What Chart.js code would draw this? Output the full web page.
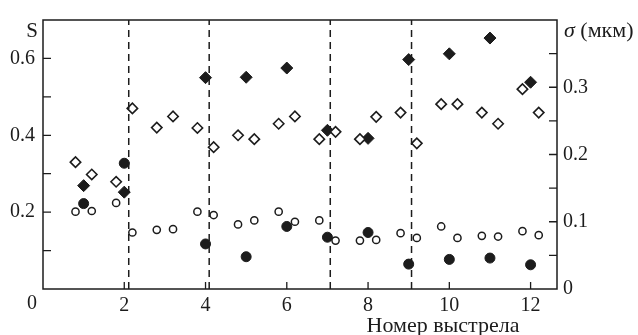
<!DOCTYPE html>
<html><head><meta charset="utf-8">
<script src="https://cdn.jsdelivr.net/npm/chart.js@4"></script>
<style>html,body{margin:0;padding:0;background:#fff}#wrap{width:638px;height:335px;position:relative}</style>
</head><body><div id="wrap"><canvas id="c"></canvas></div>
<script>
// ---- data ----
const shotFilled = [1, 2, 4, 5, 6, 7, 8, 9, 10, 11, 12];
const sFilled = [0.269, 0.252, 0.550, 0.551, 0.575, 0.413, 0.392, 0.597, 0.612, 0.653, 0.538];
const sigmaFilled = [0.127, 0.187, 0.067, 0.048, 0.093, 0.077, 0.084, 0.037, 0.044, 0.046, 0.036];
const shotOpen = [0.8, 1.2, 1.8, 2.2, 2.8, 3.2, 3.8, 4.2, 4.8, 5.2, 5.8, 6.2, 6.8, 7.2, 7.8, 8.2, 8.8, 9.2, 9.8, 10.2, 10.8, 11.2, 11.8, 12.2];
const sOpen = [0.330, 0.298, 0.279, 0.470, 0.420, 0.449, 0.419, 0.369, 0.400, 0.390, 0.430, 0.449, 0.390, 0.409, 0.390, 0.448, 0.459, 0.379, 0.481, 0.481, 0.459, 0.430, 0.520, 0.459];
const sigmaOpen = [0.115, 0.116, 0.128, 0.084, 0.088, 0.089, 0.115, 0.110, 0.096, 0.102, 0.115, 0.100, 0.102, 0.072, 0.072, 0.073, 0.083, 0.076, 0.093, 0.076, 0.079, 0.078, 0.086, 0.080];
const dividers = [2.11, 4.09, 7.07, 9.07];
const xTicks = [0, 2, 4, 6, 8, 10, 12];
const sTickLabels = [0.2, 0.4, 0.6];
const sigmaTickLabels = [0, 0.1, 0.2, 0.3];
const xTitle = 'Номер выстрела';
const sTitle = 'S';
const sigmaSymbol = 'σ';
const sigmaUnit = ' (мкм)';

const INK = '#1c1c1c';
const FONT = '"Liberation Serif", "DejaVu Serif", serif';
const pts = (xs, ys) => xs.map((x, i) => ({x, y: ys[i]}));
const near = (arr, v) => arr.some(t => Math.abs(t - v) < 1e-6);

const datasets = [];
dividers.forEach(d => datasets.push({
  type: 'line', yAxisID: 'y', data: [{x: d, y: 0}, {x: d, y: 0.7}],
  borderColor: INK, borderWidth: 1.5, borderDash: [7, 5], pointRadius: 0, fill: false
}));
datasets.push({label: 'S open', yAxisID: 'y', data: pts(shotOpen, sOpen), pointStyle: 'rectRot',
  pointRadius: 5.2, backgroundColor: '#fff', borderColor: INK, borderWidth: 1.6});
datasets.push({label: 'S filled', yAxisID: 'y', data: pts(shotFilled, sFilled), pointStyle: 'rectRot',
  pointRadius: 6, backgroundColor: INK, borderColor: INK, borderWidth: 1});
datasets.push({label: 'sigma open', yAxisID: 'y1', data: pts(shotOpen, sigmaOpen), pointStyle: 'circle',
  pointRadius: 3.6, backgroundColor: '#fff', borderColor: INK, borderWidth: 1.5});
datasets.push({label: 'sigma filled', yAxisID: 'y1', data: pts(shotFilled, sigmaFilled), pointStyle: 'circle',
  pointRadius: 5, backgroundColor: INK, borderColor: INK, borderWidth: 1});

const decor = {
  id: 'decor',
  afterDraw(chart) {
    const {ctx, chartArea: a, scales} = chart;
    ctx.save();
    ctx.strokeStyle = INK; ctx.lineWidth = 1.5;
    ctx.strokeRect(a.left, a.top, a.right - a.left, a.bottom - a.top);
    ctx.lineWidth = 1.3;
    ctx.beginPath();
    scales.x.ticks.forEach(t => { if (t.value > 0) { const p = scales.x.getPixelForValue(t.value); ctx.moveTo(p, a.bottom); ctx.lineTo(p, a.bottom - 7); } });
    scales.y.ticks.forEach(t => { if (t.value > 1e-6 && t.value < scales.y.max - 1e-6) { const p = scales.y.getPixelForValue(t.value); ctx.moveTo(a.left, p); ctx.lineTo(a.left + 8, p); } });
    scales.y1.ticks.forEach(t => { if (t.value > 1e-6 && t.value < scales.y1.max - 1e-6) { const p = scales.y1.getPixelForValue(t.value); ctx.moveTo(a.right, p); ctx.lineTo(a.right - 8, p); } });
    ctx.stroke();
    ctx.fillStyle = INK;
    ctx.textBaseline = 'middle';
    ctx.textAlign = 'center';
    ctx.font = '21px ' + FONT;
    ctx.fillText(sTitle, a.left - 11, a.top + 11);
    ctx.font = '20px ' + FONT;
    ctx.fillText('0', a.left - 11, a.bottom + 15);
    ctx.textAlign = 'left';
    ctx.font = 'italic 22px ' + FONT;
    const x0 = a.right + 7;
    ctx.fillText(sigmaSymbol, x0, a.top + 11);
    const w = ctx.measureText(sigmaSymbol).width;
    ctx.font = '22px ' + FONT;
    ctx.fillText(sigmaUnit, x0 + w, a.top + 11);
    ctx.textAlign = 'center';
    ctx.fillText(xTitle, (a.left + a.right) / 2 + 143, a.bottom + 37);
    ctx.restore();
  }
};

new Chart(document.getElementById('c'), {
  type: 'scatter',
  data: {datasets},
  options: {
    responsive: true, maintainAspectRatio: false, animation: false,
    layout: {padding: {top: 14, left: 0, right: 0, bottom: 0}},
    plugins: {legend: {display: false}, tooltip: {enabled: false}},
    scales: {
      x: {
        type: 'linear', min: 0, max: 12.65,
        afterBuildTicks: s => { s.ticks = xTicks.map(v => ({value: v})); },
        afterFit: s => { s.height = 46; },
        grid: {display: false, drawTicks: false}, border: {display: false},
        ticks: {color: INK, padding: 5, font: {family: FONT, size: 20},
          callback: v => v > 0 ? String(v) : ''}
      },
      y: {
        position: 'left', min: 0, max: 0.7,
        afterFit: s => { s.width = 43; },
        grid: {display: false, drawTicks: false}, border: {display: false},
        ticks: {stepSize: 0.1, color: INK, padding: 8, font: {family: FONT, size: 20},
          callback: v => near(sTickLabels, v) ? v.toFixed(1) : ''}
      },
      y1: {
        position: 'right', min: 0, max: 0.4,
        afterFit: s => { s.width = 81; },
        grid: {display: false, drawTicks: false}, border: {display: false},
        ticks: {stepSize: 0.05, color: INK, padding: 6, font: {family: FONT, size: 20},
          callback: v => near(sigmaTickLabels, v) ? (Math.abs(v) < 1e-9 ? '0' : v.toFixed(1)) : ''}
      }
    }
  },
  plugins: [decor]
});
</script></body></html>
